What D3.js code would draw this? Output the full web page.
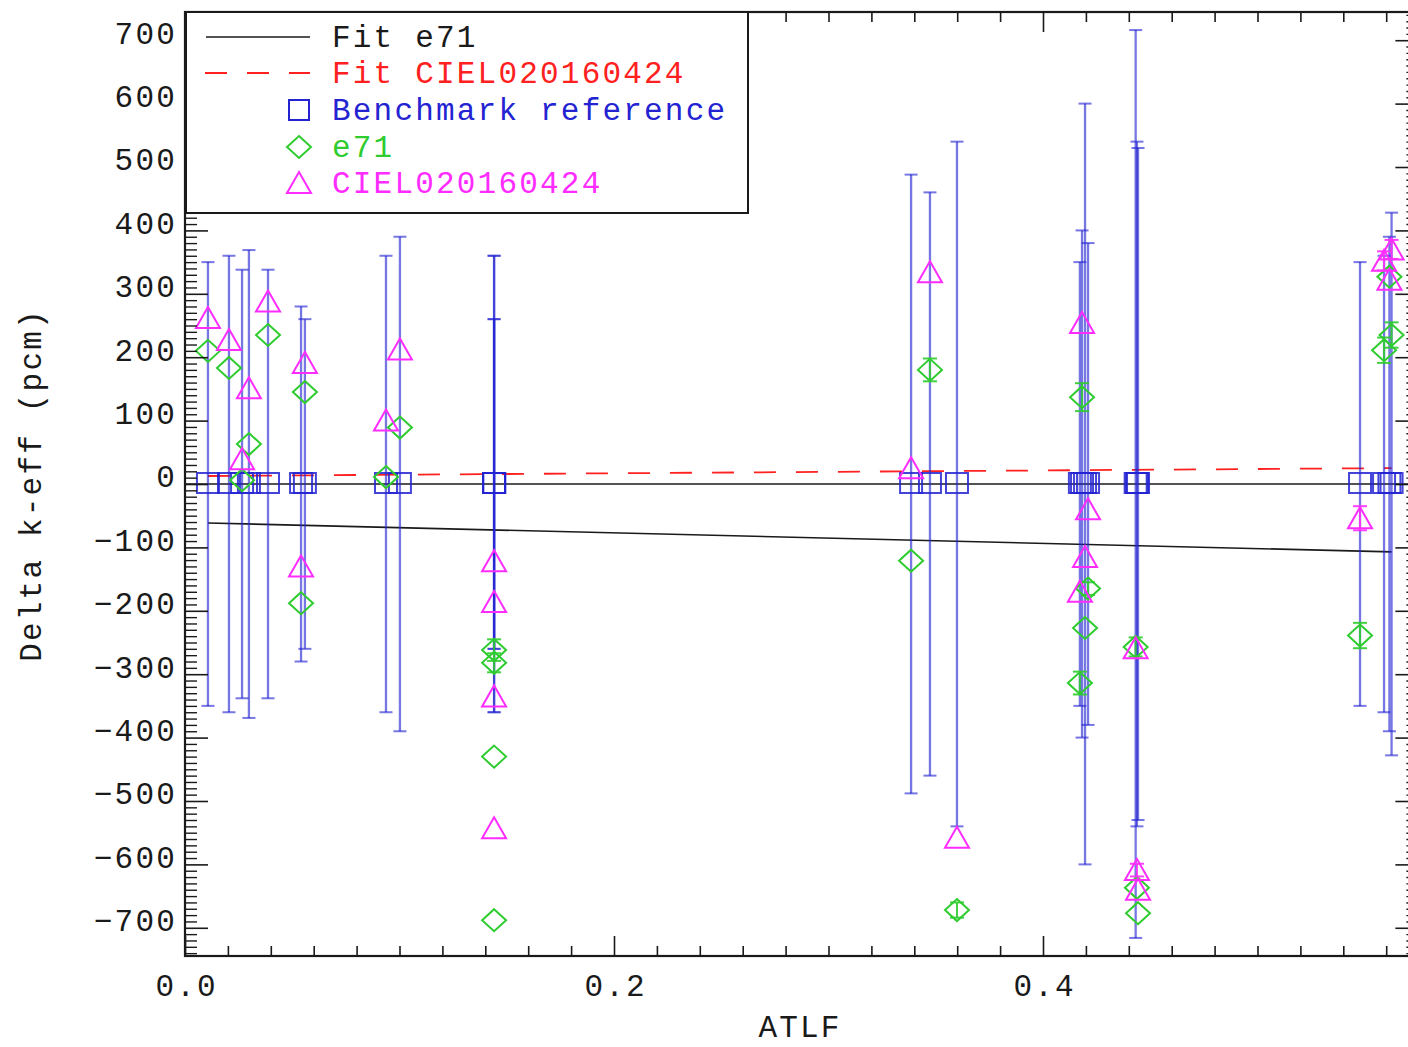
<!DOCTYPE html>
<html>
<head>
<meta charset="utf-8">
<script src="https://cdn.jsdelivr.net/npm/d3@7"></script>
<style>
  html, body { margin: 0; padding: 0; background: #fff; }
  svg { display: block; }
</style>
</head>
<body>
<svg id="chart" width="1408" height="1047"></svg>
<script>
// ---------------- DATA ----------------
const atlf     = [0.0107, 0.0205, 0.0266, 0.0298, 0.0387, 0.0541, 0.0559, 0.0937, 0.1002,
                  0.1441, 0.1441, 0.1441, 0.1441,
                  0.3385, 0.3473, 0.3599,
                  0.4172, 0.4182, 0.4196, 0.4210,
                  0.4432, 0.4438, 0.4443,
                  0.5478, 0.5590, 0.5615, 0.5625];
const benchRef = [0, 0, 0, 0, 0, 0, 0, 0, 0,
                  0, 0, 0, 0,
                  0, 0, 0,
                  0, 0, 0, 0,
                  0, 0, 0,
                  0, 0, 0, 0];
const benchUnc = [350, 360, 338, 369, 338, 280, 260, 360, 390,
                  360, 260, 260, 360,
                  488, 460, 540,
                  350, 400, 600, 380,
                  716, 540, 530,
                  350, 360, 390, 428];
const e71Vals  = [210, 183, 6, 63, 235, -188, 145, 11, 89,
                  -262, -282, -430, -688,
                  -121, 180, -672,
                  -314, 137, -227, -165,
                  -257, -637, -677,
                  -239, 211, 327, 235];
const e71Err   = [0, 0, 0, 0, 0, 0, 0, 0, 0,
                  17, 15, 0, 0,
                  0, 18, 12,
                  18, 22, 0, 10,
                  15, 0, 0,
                  20, 20, 0, 20];
const cielVals = [262, 227, 39, 151, 288, -130, 191, 100, 212,
                  -122, -186, -335, -543,
                  25, 334, -558,
                  -170, 254, -115, -40,
                  -259, -609, -640,
                  -54, 352, 322, 370];
const cielErr  = [0, 0, 0, 0, 0, 0, 0, 0, 0,
                  0, 0, 0, 0,
                  0, 0, 0,
                  0, 0, 0, 0,
                  0, 10, 0,
                  19, 15, 0, 15];
const fitE71Coef  = [-60.6, -82.6];   // intercept, slope
const fitCielCoef = [12.4, 22.5];
const xMajorTicks = [0.0, 0.2, 0.4];
const xTickLabels = ["0.0", "0.2", "0.4"];
const yMajorTicks = [-700, -600, -500, -400, -300, -200, -100, 0, 100, 200, 300, 400, 500, 600, 700];
const yTickLabels = ["\u2212700", "\u2212600", "\u2212500", "\u2212400", "\u2212300", "\u2212200", "\u2212100",
                     "0", "100", "200", "300", "400", "500", "600", "700"];
const legendLabels = ["Fit e71", "Fit CIEL020160424", "Benchmark reference", "e71", "CIEL020160424"];
const xTitle = "ATLF";
const yTitle = "Delta k-eff (pcm)";

// ---------------- STYLE ----------------
const FONT = "'Liberation Mono', 'DejaVu Sans Mono', monospace";
const FS = 31, LS = 2.2;
const C_BLUE = "#2323d2", C_GREEN = "#2ecc2e", C_MAG = "#ff2cff", C_RED = "#ff2020", C_BLK = "#1a1a1a";

const svg = d3.select("#chart");
const L = 185, T = 12, B = 956;
const x = d3.scaleLinear().domain([0, 0.575]).range([L, L + 0.575 * 2145]);
const y = d3.scaleLinear().domain([-744.5, 744.5]).range([B, T]);
const R = x(0.575);

const plot = svg.append("g");

// zero line
plot.append("line").attr("x1", L).attr("x2", R).attr("y1", y(0)).attr("y2", y(0))
  .attr("stroke", C_BLK).attr("stroke-width", 1.6);

// fits
const xmin = d3.min(atlf), xmax = d3.max(atlf);
const fitLine = d3.line().x(d => x(d[0])).y(d => y(d[1]));
plot.append("path")
  .attr("d", fitLine([xmin, xmax].map(v => [v, fitE71Coef[0] + fitE71Coef[1] * v])))
  .attr("stroke", C_BLK).attr("stroke-width", 1.6).attr("fill", "none");
plot.append("path")
  .attr("d", fitLine([xmin, xmax].map(v => [v, fitCielCoef[0] + fitCielCoef[1] * v])))
  .attr("stroke", C_RED).attr("stroke-width", 1.8).attr("fill", "none")
  .attr("stroke-dasharray", "22,20");

// error bar helper
function errBar(g, xv, yv, err, color, opacity, capHalf, w) {
  const px = x(xv);
  const y1 = y(yv - err), y2 = y(yv + err);
  g.append("line").attr("x1", px).attr("x2", px).attr("y1", y1).attr("y2", y2)
    .attr("stroke", color).attr("stroke-width", w).attr("stroke-opacity", opacity);
  [y1, y2].forEach(yy => g.append("line").attr("x1", px - capHalf).attr("x2", px + capHalf)
    .attr("y1", yy).attr("y2", yy).attr("stroke", color).attr("stroke-width", 2).attr("stroke-opacity", opacity));
}

// benchmark error bars
const bars = plot.append("g");
atlf.forEach((xv, i) => errBar(bars, xv, benchRef[i], benchUnc[i], C_BLUE, 0.62, 6.5, 2.3));

// squares
plot.append("g").selectAll("rect").data(atlf).join("rect")
  .attr("x", d => x(d) - 11).attr("y", (d, i) => y(benchRef[i]) - 11)
  .attr("width", 22).attr("height", 20)
  .attr("fill", "none").attr("stroke", C_BLUE).attr("stroke-width", 2).attr("stroke-opacity", 0.85);

// e71 small error bars + diamonds
const gE = plot.append("g");
atlf.forEach((xv, i) => { if (e71Err[i] > 0) errBar(gE, xv, e71Vals[i], e71Err[i], C_GREEN, 0.9, 7, 2); });
const diamond = (cx, cy) => `M${cx},${cy - 11}L${cx + 12},${cy}L${cx},${cy + 11}L${cx - 12},${cy}Z`;
gE.selectAll("path.d").data(atlf).join("path").attr("class", "d")
  .attr("d", (d, i) => diamond(x(d), y(e71Vals[i])))
  .attr("fill", "none").attr("stroke", C_GREEN).attr("stroke-width", 2);

// CIEL small error bars + triangles
const gC = plot.append("g");
atlf.forEach((xv, i) => { if (cielErr[i] > 0) errBar(gC, xv, cielVals[i], cielErr[i], C_MAG, 0.9, 7, 2); });
const tri = (cx, cy) => `M${cx},${cy - 11}L${cx + 12},${cy + 10}L${cx - 12},${cy + 10}Z`;
gC.selectAll("path.t").data(atlf).join("path").attr("class", "t")
  .attr("d", (d, i) => tri(x(d), y(cielVals[i])))
  .attr("fill", "none").attr("stroke", C_MAG).attr("stroke-width", 2);

// ---------------- AXES ----------------
const xMinor = d3.range(0, 0.575, 0.02).map(v => +v.toFixed(3)).filter(v => !xMajorTicks.some(m => Math.abs(m - v) < 1e-6));
const yMinor = d3.range(-740, 741, 10).filter(v => Math.abs(v % 100) !== 0);

function styleText(sel) {
  sel.selectAll("text").attr("font-family", FONT).attr("font-size", FS)
    .attr("letter-spacing", LS).attr("fill", C_BLK);
}
function noDomain(g, w) { g.select(".domain").remove(); g.selectAll("line").attr("stroke", C_BLK).attr("stroke-width", w || 1.6); }

// bottom
const gxB = svg.append("g").attr("transform", `translate(0,${B})`)
  .call(d3.axisBottom(x).tickValues(xMajorTicks).tickSize(-20).tickPadding(18)
    .tickFormat((d, i) => xTickLabels[i]));
noDomain(gxB); styleText(gxB);
gxB.selectAll("text").attr("dx", LS / 2);
const gxBm = svg.append("g").attr("transform", `translate(0,${B})`)
  .call(d3.axisBottom(x).tickValues(xMinor).tickSize(-10).tickFormat(""));
noDomain(gxBm);
// top
const gxT = svg.append("g").attr("transform", `translate(0,${T})`)
  .call(d3.axisTop(x).tickValues(xMajorTicks).tickSize(-20).tickFormat(""));
noDomain(gxT);
const gxTm = svg.append("g").attr("transform", `translate(0,${T})`)
  .call(d3.axisTop(x).tickValues(xMinor).tickSize(-10).tickFormat(""));
noDomain(gxTm);
// left
const gyL = svg.append("g").attr("transform", `translate(${L},0)`)
  .call(d3.axisLeft(y).tickValues(yMajorTicks).tickSize(-23).tickPadding(8)
    .tickFormat((d, i) => yTickLabels[i]));
noDomain(gyL); styleText(gyL);
gyL.selectAll("text").attr("y", -7);
const gyLm = svg.append("g").attr("transform", `translate(${L},0)`)
  .call(d3.axisLeft(y).tickValues(yMinor).tickSize(-12).tickFormat(""));
noDomain(gyLm, 1.4);
// right
const gyR = svg.append("g").attr("transform", `translate(${R},0)`)
  .call(d3.axisRight(y).tickValues(yMajorTicks).tickSize(-23).tickFormat(""));
noDomain(gyR);
const gyRm = svg.append("g").attr("transform", `translate(${R},0)`)
  .call(d3.axisRight(y).tickValues(yMinor).tickSize(-12).tickFormat(""));
noDomain(gyRm, 1.4);

// frame
svg.append("rect").attr("x", L).attr("y", T).attr("width", R - L).attr("height", B - T)
  .attr("fill", "none").attr("stroke", C_BLK).attr("stroke-width", 2.2);

// titles
svg.append("text").attr("x", 800).attr("y", 1037).attr("text-anchor", "middle")
  .attr("font-family", FONT).attr("font-size", FS).attr("letter-spacing", LS).attr("fill", C_BLK)
  .text(xTitle);
svg.append("text").attr("transform", "translate(41,485) rotate(-90)").attr("text-anchor", "middle")
  .attr("font-family", FONT).attr("font-size", FS).attr("letter-spacing", LS).attr("fill", C_BLK)
  .text(yTitle);

// ---------------- LEGEND ----------------
const lg = svg.append("g");
lg.append("rect").attr("x", 186).attr("y", 12).attr("width", 562).attr("height", 201)
  .attr("fill", "#fff").attr("stroke", C_BLK).attr("stroke-width", 2);
const rowsY = [37, 73, 110, 147, 183];
const legendColors = [C_BLK, C_RED, C_BLUE, C_GREEN, C_MAG];
lg.append("line").attr("x1", 206).attr("x2", 310).attr("y1", rowsY[0]).attr("y2", rowsY[0])
  .attr("stroke", C_BLK).attr("stroke-width", 1.6);
lg.append("line").attr("x1", 205).attr("x2", 310).attr("y1", rowsY[1]).attr("y2", rowsY[1])
  .attr("stroke", C_RED).attr("stroke-width", 1.8).attr("stroke-dasharray", "22,20");
lg.append("rect").attr("x", 289).attr("y", rowsY[2] - 10).attr("width", 20).attr("height", 20)
  .attr("fill", "none").attr("stroke", C_BLUE).attr("stroke-width", 2);
lg.append("path").attr("d", diamond(299, rowsY[3])).attr("fill", "none").attr("stroke", C_GREEN).attr("stroke-width", 2);
lg.append("path").attr("d", tri(299, rowsY[4])).attr("fill", "none").attr("stroke", C_MAG).attr("stroke-width", 2);
lg.selectAll("text.lt").data(legendLabels).join("text").attr("class", "lt")
  .attr("x", 332).attr("y", (d, i) => rowsY[i] + 10)
  .attr("font-family", FONT).attr("font-size", FS).attr("letter-spacing", LS)
  .attr("fill", (d, i) => legendColors[i]).text(d => d);
</script>
</body>
</html>
